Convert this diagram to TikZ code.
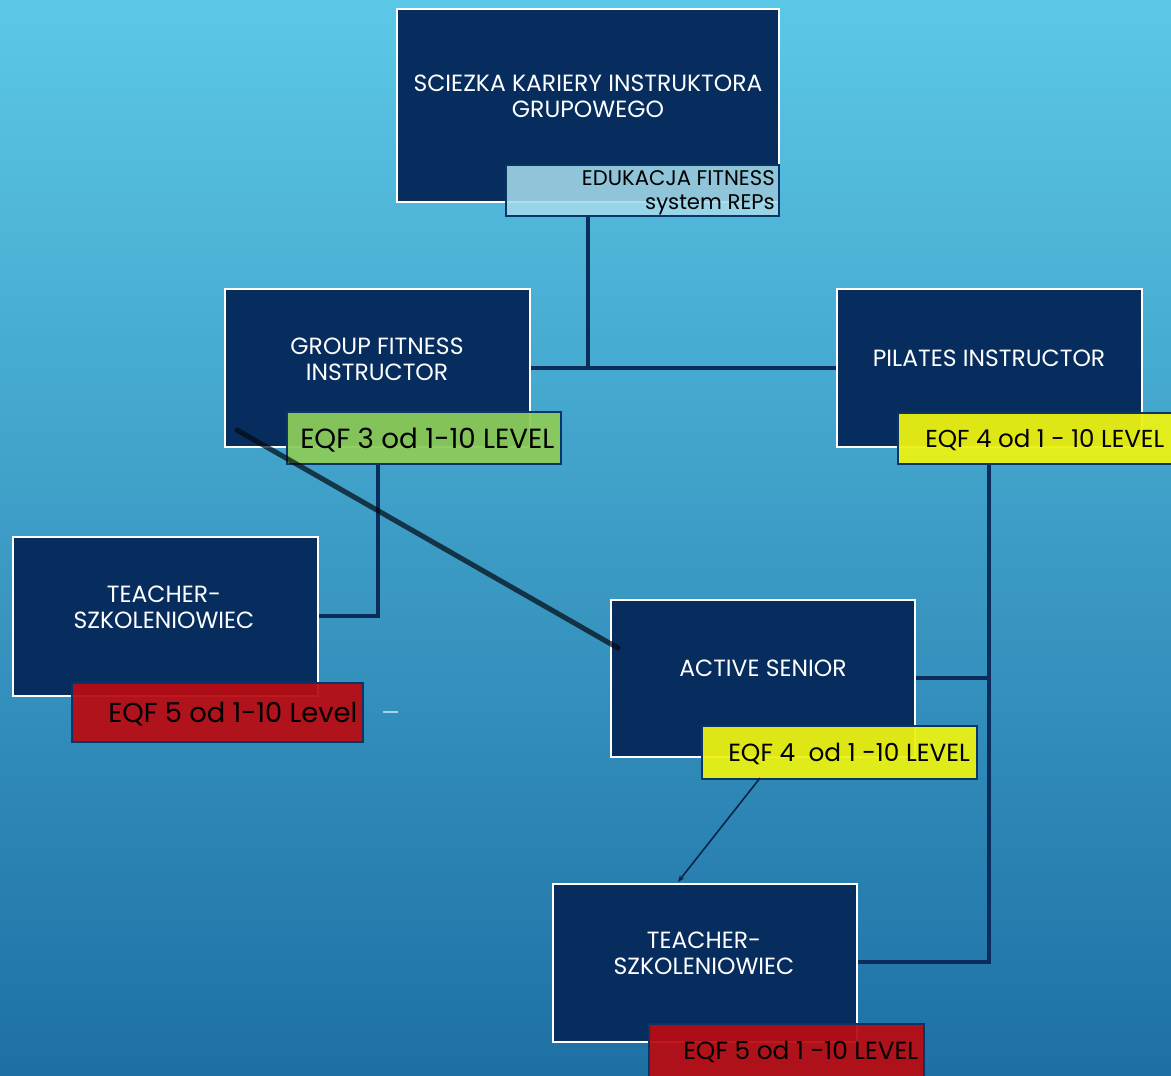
\documentclass[tikz,border=0pt]{standalone}
\usepackage{fontspec}
\setmainfont{Poppins}
\usetikzlibrary{arrows.meta,fit}
\definecolor{bgtop}{HTML}{5CC8E7}
\definecolor{bgmid}{HTML}{3A9CCB}
\definecolor{bgbot}{HTML}{1D70A4}
\definecolor{navy}{HTML}{062D5E}
\definecolor{conncol}{HTML}{0A2D5C}
\definecolor{labborder}{HTML}{0B3566}
\definecolor{lblue}{HTML}{A2DAEB}
\definecolor{lgreen}{HTML}{8CCC5A}
\definecolor{lyellow}{HTML}{ECF212}
\definecolor{lred}{HTML}{B80C12}
\begin{document}
\begin{tikzpicture}[x=0.75pt,y=-0.75pt,
  box/.style={draw=white,line width=2.2pt,fill=navy,rectangle,inner sep=0pt},
  lab/.style={draw=labborder,line width=1.9pt,rectangle,inner sep=0pt,fill opacity=0.94,draw opacity=1,text opacity=1},
  boxtxt/.style={text=white,align=center,font=\fontsize{17.6}{19.5}\selectfont,inner sep=0pt},
  labtxt/.style={text=black,font=\fontsize{18.6}{20}\selectfont,inner sep=0pt,anchor=base west},
  conn/.style={draw=conncol,line width=2.5pt},
]
\useasboundingbox (0,0) rectangle (1171,1075);
\shade[top color=bgtop,middle color=bgmid,bottom color=bgbot] (0,0) rectangle (1171,1075);

% junction coordinates
\coordinate (j1) at (588,368);
\coordinate (j2) at (378,616);
\coordinate (j3) at (989,678);
\coordinate (j4) at (989,962);
\coordinate (d1) at (237,430);
\coordinate (d2) at (618,648);
\coordinate (a1) at (760,778);
\coordinate (a2) at (678,882);
\coordinate (s1) at (383,712);
\coordinate (s2) at (398,712);

% boxes
\node[box,fit={(397,9) (779,202)}] (top) {};
\node[box,fit={(225,289) (530,447)}] (grp) {};
\node[box,fit={(837,289) (1142,447)}] (pil) {};
\node[box,fit={(13,537) (318,696)}] (tl) {};
\node[box,fit={(611,600) (915,757)}] (as) {};
\node[box,fit={(553,884) (857,1042)}] (tb) {};

% box texts
\node[boxtxt] (toptxt) at (588,96) {SCIEZKA KARIERY INSTRUKTORA\\GRUPOWEGO};
\node[boxtxt] (grptxt) at (377,359) {GROUP FITNESS\\INSTRUCTOR};
\node[boxtxt] (piltxt) at (989,358) {PILATES INSTRUCTOR};
\node[boxtxt] (tltxt) at (164,607) {TEACHER-\\SZKOLENIOWIEC};
\node[boxtxt] (astxt) at (763,668) {ACTIVE SENIOR};
\node[boxtxt] (tbtxt) at (704,953) {TEACHER-\\SZKOLENIOWIEC};

% labels
\node[lab,fill=lblue,fill opacity=0.88,fit={(506,165) (779,216)}] (toplab) {};
\node[lab,fill=lgreen,fit={(287,412) (561,464)}] (grnlab) {};
\node[lab,fill=lyellow,fit={(898,413) (1180,464)}] (pilab) {};
\node[lab,fill=lred,fit={(72,683) (363,742)}] (tllab) {};
\node[lab,fill=lyellow,fit={(702,726) (977,779)}] (aslab) {};
\node[lab,fill=lred,fit={(649,1024) (924,1090)}] (tblab) {};

% connectors
\draw[conn] (j1 |- toplab.south) -- (j1);
\draw[conn] (grp.east |- j1) -- (pil.west |- j1);
\draw[conn] (j2 |- grnlab.south) -- (j2) -- (tl.east |- j2);
\draw[conn] (j4 |- pilab.south) -- (j4) -- (tb.east |- j4);
\draw[conn] (j3) -- (as.east |- j3);
\draw[draw=black!80!conncol,line width=3.8pt,draw opacity=0.7,line cap=round] (d1) -- (d2);
\draw[draw=conncol!80!black,line width=1.2pt,-{Stealth[length=5pt,width=4pt]}] (a1) -- (a2);
\draw[draw=white!55!bgmid,line width=1pt] (s1) -- (s2);

% label texts
\node[inner sep=0pt,text=black,font=\fontsize{15.9}{18}\selectfont,anchor=base east,align=right] (toplabtxt) at (775,209) {EDUKACJA FITNESS\\system REPs};
\node[labtxt,font=\fontsize{20.8}{22}\selectfont] (grnlabtxt) at (300,448) {EQF 3 od 1-10 LEVEL};
\node[labtxt,font=\fontsize{18.4}{20}\selectfont] (pilabtxt) at (925,447) {EQF 4 od 1 - 10 LEVEL};
\node[labtxt,font=\fontsize{20.5}{22}\selectfont] (tllabtxt) at (108,722) {EQF 5 od 1-10 Level};
\node[labtxt] (aslabtxt) at (728,761) {EQF 4 \ od 1 -10 LEVEL};
\node[labtxt] (tblabtxt) at (683,1059) {EQF 5 od 1 -10 LEVEL};
\end{tikzpicture}
\end{document}
